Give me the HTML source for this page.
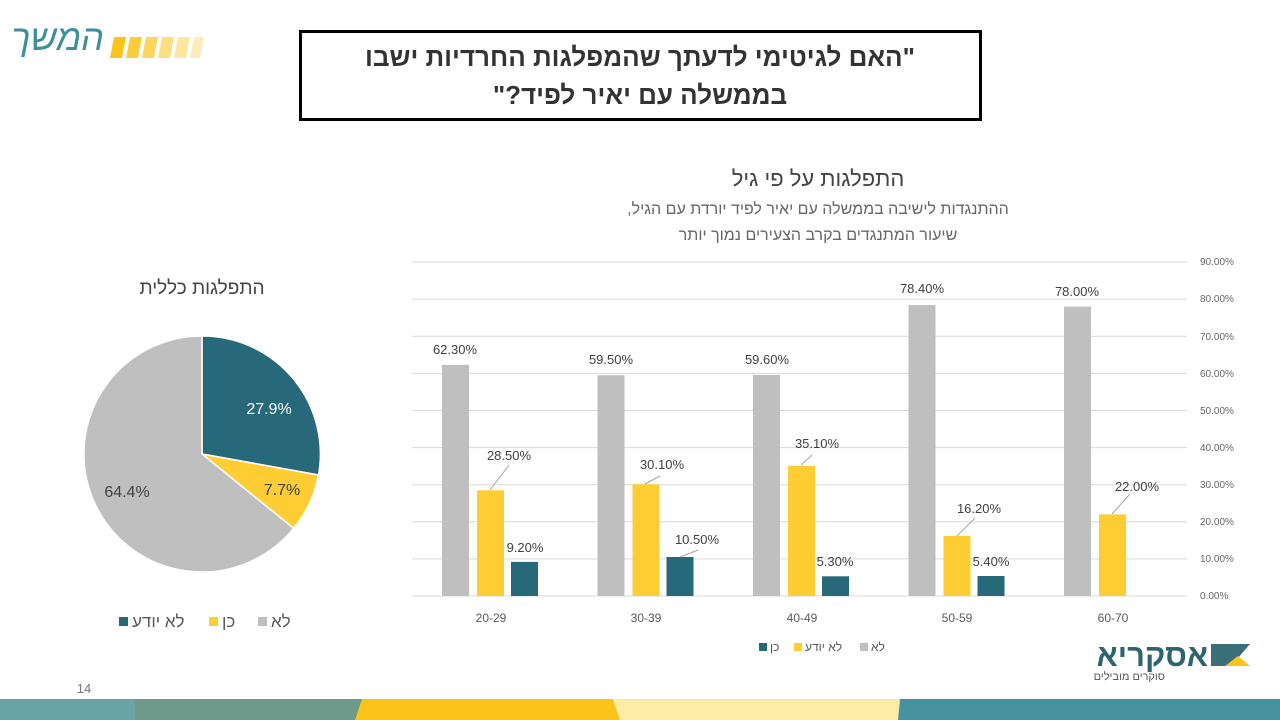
<!DOCTYPE html>
<html><head><meta charset="utf-8"><style>
body{margin:0;width:1280px;height:720px;background:#fff;overflow:hidden;position:relative;font-family:"Liberation Sans","Noto Sans CJK SC",sans-serif}
.rtl{direction:rtl;unicode-bidi:embed}
</style></head><body>
<svg width="1280" height="720" xmlns="http://www.w3.org/2000/svg" style="position:absolute;left:0;top:0" font-family="Liberation Sans, DejaVu Sans, sans-serif">
<!-- top-left logo -->
<text x="104" y="50" font-size="36" fill="#3d8f99" font-style="italic" text-anchor="end">המשך</text>
<g fill="#fcc419">
<polygon points="110,58 114,37 126,37 122,58"/>
<polygon points="126,58 130,37 142,37 138,58" opacity="0.85"/>
<polygon points="142,58 146,37 158,37 154,58" opacity="0.7"/>
<polygon points="158,58 162,37 174,37 170,58" opacity="0.55"/>
<polygon points="174,58 178,37 190,37 186,58" opacity="0.42"/>
<polygon points="190,58 194,37 204,37 200,58" opacity="0.3"/>
</g>
<!-- title box -->
<rect x="300.5" y="31.5" width="680" height="88" fill="#fff" stroke="#000" stroke-width="3"/>
<text class="rtl" x="640" y="66" font-size="26" font-weight="bold" text-anchor="middle" fill="#333">"האם לגיטימי לדעתך שהמפלגות החרדיות ישבו</text>
<text class="rtl" x="640" y="104" font-size="26" font-weight="bold" text-anchor="middle" fill="#333">בממשלה עם יאיר לפיד?"</text>
<!-- chart titles -->
<text class="rtl" x="818" y="186" font-size="22" text-anchor="middle" fill="#444">התפלגות על פי גיל</text>
<text class="rtl" x="818" y="214" font-size="16" text-anchor="middle" fill="#666">ההתנגדות לישיבה בממשלה עם יאיר לפיד יורדת עם הגיל,</text>
<text class="rtl" x="818" y="240" font-size="16" text-anchor="middle" fill="#666">שיעור המתנגדים בקרב הצעירים נמוך יותר</text>
<!-- gridlines -->
<g stroke="#d9d9d9" stroke-width="1">
<line x1="412" x2="1187" y1="596" y2="596"/>
<line x1="412" x2="1187" y1="558.9" y2="558.9"/>
<line x1="412" x2="1187" y1="521.8" y2="521.8"/>
<line x1="412" x2="1187" y1="484.7" y2="484.7"/>
<line x1="412" x2="1187" y1="447.6" y2="447.6"/>
<line x1="412" x2="1187" y1="410.5" y2="410.5"/>
<line x1="412" x2="1187" y1="373.4" y2="373.4"/>
<line x1="412" x2="1187" y1="336.3" y2="336.3"/>
<line x1="412" x2="1187" y1="299.2" y2="299.2"/>
<line x1="412" x2="1187" y1="262.1" y2="262.1"/>
</g>
<g font-size="10" fill="#666">
<text x="1200" y="599">0.00%</text>
<text x="1200" y="562">10.00%</text>
<text x="1200" y="525">20.00%</text>
<text x="1200" y="488">30.00%</text>
<text x="1200" y="451">40.00%</text>
<text x="1200" y="414">50.00%</text>
<text x="1200" y="377">60.00%</text>
<text x="1200" y="340">70.00%</text>
<text x="1200" y="302">80.00%</text>
<text x="1200" y="265">90.00%</text>
</g>
<!-- bars -->
<g fill="#bfbfbf">
<rect x="442" y="364.9" width="27" height="231.1"/>
<rect x="597.5" y="375.3" width="27" height="220.7"/>
<rect x="753" y="374.9" width="27" height="221.1"/>
<rect x="908.5" y="305.1" width="27" height="290.9"/>
<rect x="1064" y="306.6" width="27" height="289.4"/>
</g>
<g fill="#fdcd33">
<rect x="477" y="490.3" width="27" height="105.7"/>
<rect x="632.5" y="484.3" width="27" height="111.7"/>
<rect x="788" y="465.8" width="27" height="130.2"/>
<rect x="943.5" y="535.9" width="27" height="60.1"/>
<rect x="1099" y="514.4" width="27" height="81.6"/>
</g>
<g fill="#27687a">
<rect x="511" y="561.9" width="27" height="34.1"/>
<rect x="666.5" y="557" width="27" height="39"/>
<rect x="822" y="576.3" width="27" height="19.7"/>
<rect x="977.5" y="576" width="27" height="20"/>
</g>
<!-- leader lines -->
<g stroke="#a6a6a6" stroke-width="1" fill="none">
<line x1="490" y1="490" x2="509" y2="465"/>
<line x1="645" y1="484" x2="660" y2="476"/>
<line x1="680" y1="557" x2="698" y2="550"/>
<line x1="801" y1="465" x2="812" y2="455"/>
<line x1="957" y1="536" x2="975" y2="518"/>
<line x1="1112" y1="514" x2="1130" y2="494"/>
</g>
<g font-size="13" fill="#404040" text-anchor="middle">
<text x="455" y="354">62.30%</text>
<text x="611" y="364">59.50%</text>
<text x="767" y="364">59.60%</text>
<text x="922" y="293">78.40%</text>
<text x="1077" y="296">78.00%</text>
<text x="509" y="460">28.50%</text>
<text x="662" y="469">30.10%</text>
<text x="817" y="448">35.10%</text>
<text x="979" y="513">16.20%</text>
<text x="1137" y="491">22.00%</text>
<text x="525" y="552">9.20%</text>
<text x="697" y="544">10.50%</text>
<text x="835" y="566">5.30%</text>
<text x="991" y="566">5.40%</text>
</g>
<g font-size="12" fill="#595959" text-anchor="middle">
<text x="491" y="622">20-29</text>
<text x="646" y="622">30-39</text>
<text x="802" y="622">40-49</text>
<text x="957" y="622">50-59</text>
<text x="1113" y="622">60-70</text>
</g>
<!-- bar legend -->
<rect x="759" y="643" width="8" height="8" fill="#27687a"/>
<text x="770" y="651" font-size="12" fill="#595959">כן</text>
<rect x="794" y="643" width="8" height="8" fill="#fdcd33"/>
<text x="805" y="651" font-size="12" fill="#595959">לא יודע</text>
<rect x="860" y="643" width="8" height="8" fill="#bfbfbf"/>
<text x="871" y="651" font-size="12" fill="#595959">לא</text>
<!-- pie -->
<text x="202" y="294" font-size="19" text-anchor="middle" fill="#444">התפלגות כללית</text>
<g stroke="#fff" stroke-width="1.5">
<path d="M202,454 L202,336 A118,118 0 0 1 318.5,475.0 Z" fill="#27687a"/>
<path d="M202,454 L318.5,475.0 A118,118 0 0 1 293.6,528.3 Z" fill="#fdcd33"/>
<path d="M202,454 L293.6,528.3 A118,118 0 1 1 202,336 Z" fill="#bfbfbf"/>
</g>
<text x="269" y="414" font-size="16" fill="#fff" text-anchor="middle">27.9%</text>
<text x="282" y="495" font-size="16" fill="#404040" text-anchor="middle">7.7%</text>
<text x="127" y="497" font-size="16" fill="#404040" text-anchor="middle">64.4%</text>
<rect x="119" y="617" width="9" height="9" fill="#27687a"/>
<text x="132" y="627" font-size="17" fill="#595959">לא יודע</text>
<rect x="209" y="617" width="9" height="9" fill="#fdcd33"/>
<text x="222" y="627" font-size="17" fill="#595959">כן</text>
<rect x="258" y="617" width="9" height="9" fill="#bfbfbf"/>
<text x="271" y="627" font-size="17" fill="#595959">לא</text>
<!-- page number -->
<text x="84" y="693" font-size="13" fill="#777" text-anchor="middle">14</text>
<!-- bottom right logo -->
<polygon points="1211,644 1250,644 1238,658 1250,666 1211,666" fill="#3a6f7a"/>
<polygon points="1225,666 1238,656 1250,666" fill="#fcc419"/>
<text x="1208" y="666" font-size="31" font-weight="bold" fill="#2e6470" text-anchor="end">אסקריא</text>
<text x="1165" y="680" font-size="11" fill="#555" text-anchor="end">סוקרים מובילים</text>
<!-- bottom strip -->
<rect x="0" y="699" width="135" height="21" fill="#6aa3a3"/>
<rect x="135" y="699" width="230" height="21" fill="#6e9a8c"/>
<polygon points="362,699 613,699 620,720 355,720" fill="#fcc419"/>
<polygon points="613,699 900,699 898,720 620,720" fill="#fdeca6"/>
<polygon points="900,699 1280,699 1280,720 898,720" fill="#46939f"/>
</svg>
</body></html>
